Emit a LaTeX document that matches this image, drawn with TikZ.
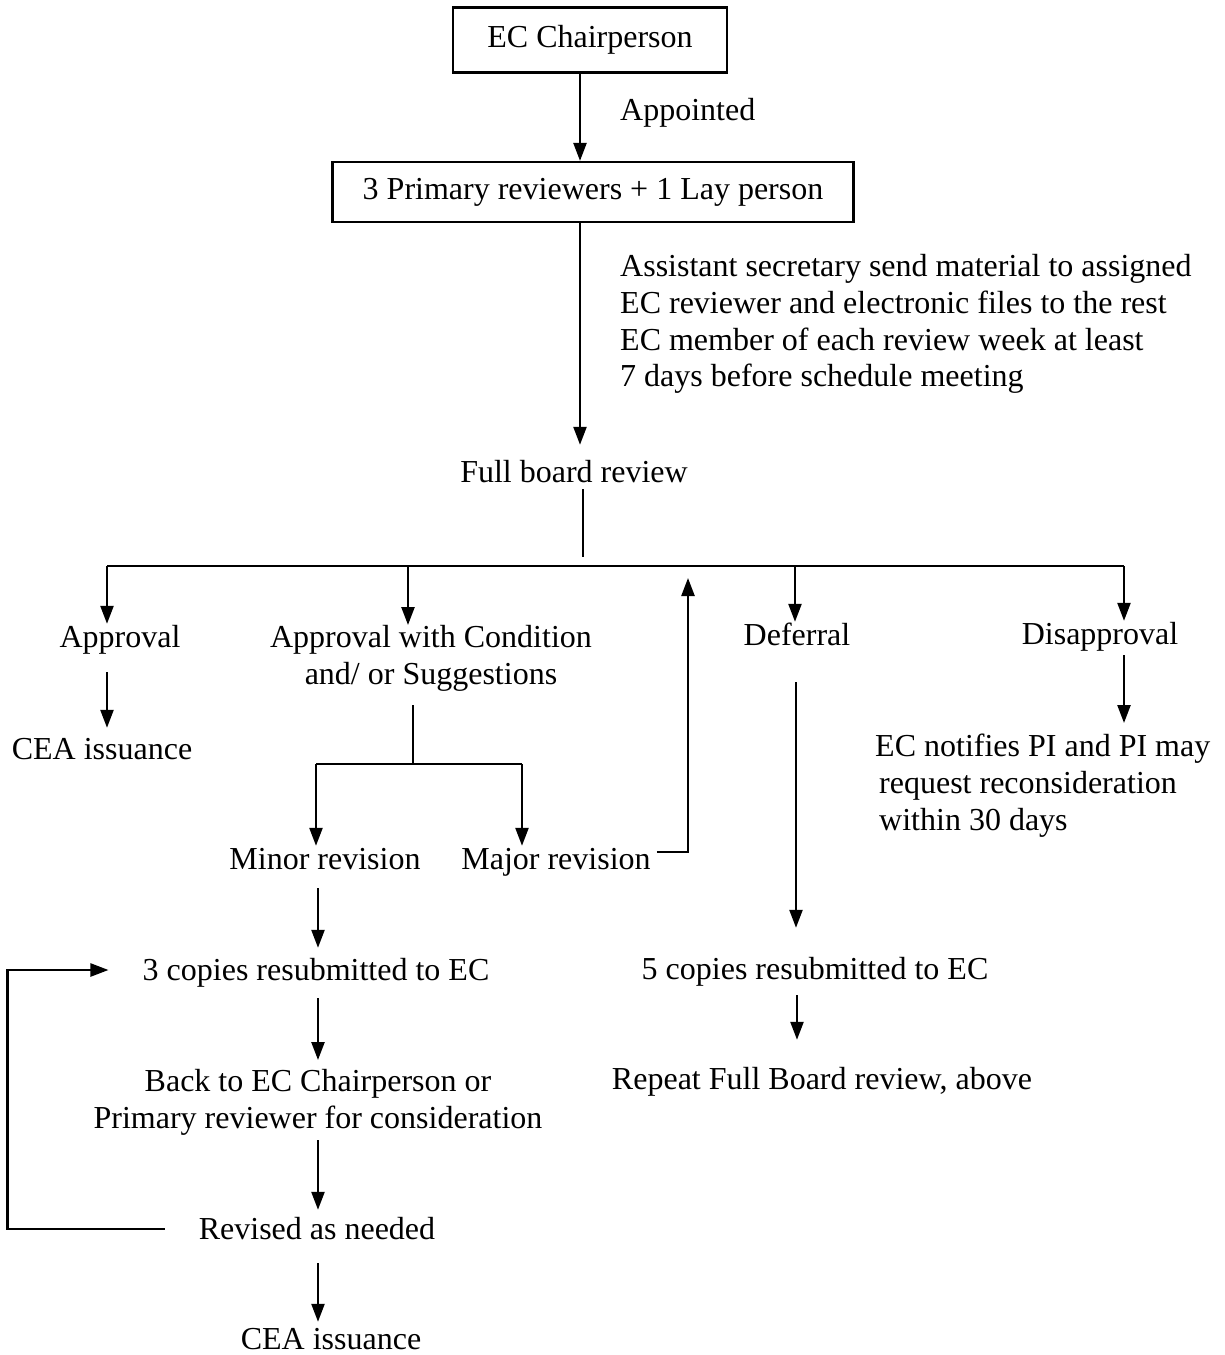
\documentclass[tikz,border=0pt]{standalone}
\usepackage{fontspec}
\setmainfont{Liberation Serif}
\usetikzlibrary{arrows.meta}
\begin{document}
\begin{tikzpicture}[x=1pt,y=-1pt,
  every node/.style={font=\fontsize{32}{36.8}\selectfont},
  txt/.style={inner sep=0pt, text height=23pt, text depth=7pt, anchor=base},
  multi/.style={inner sep=0pt},
  box/.style={draw, line width=2.2pt, inner sep=0pt},
  arr/.style={line width=2.4pt, -{Triangle[length=18pt,width=13pt]}},
  ln/.style={line width=2.4pt}]
\useasboundingbox (0,0) rectangle (1224,1355);

% boxes
\node[box, minimum width=274pt, minimum height=65pt] (b1) at (590,40) {EC Chairperson};
\node[box, minimum width=521pt, minimum height=60pt] (b2) at (593,192) {3 Primary reviewers + 1 Lay person};

% texts
\node[txt, anchor=base west] (appt) at (620,120) {Appointed};
\node[multi, anchor=north west, align=left] (note) at (620,254) {Assistant secretary send material to assigned\\EC reviewer and electronic files to the rest\\EC member of each review week at least\\7 days before schedule meeting};
\node[txt] (fbr) at (574,482) {Full board review};
\node[txt] (appr) at (120,647) {Approval};
\node[multi, anchor=north, align=center] (awc) at (431,625) {Approval with Condition\\and/ or Suggestions};
\node[txt] (defr) at (797,645) {Deferral};
\node[txt] (disa) at (1100,644) {Disapproval};
\node[txt] (cea1) at (102,759) {CEA issuance};
\node[multi, anchor=north west, align=left] (noti) at (875,734) {EC notifies PI and PI may\\\hspace*{4pt}request reconsideration\\\hspace*{4pt}within 30 days};
\node[txt] (minr) at (325,869) {Minor revision};
\node[txt] (majr) at (556,869) {Major revision};
\node[txt] (c3) at (316,980) {3 copies resubmitted to EC};
\node[multi, anchor=north, align=center] (back) at (318,1069) {Back to EC Chairperson or\\Primary reviewer for consideration};
\node[txt] (rev) at (317,1239) {Revised as needed};
\node[txt] (cea2) at (331,1349) {CEA issuance};
\node[txt] (c5) at (815,979) {5 copies resubmitted to EC};
\node[txt] (rep) at (822,1089) {Repeat Full Board review, above};

% coordinates
\coordinate (t1) at (107,566);
\coordinate (t2) at (408,566);
\coordinate (t3) at (795,566);
\coordinate (t4) at (1124,566);
\coordinate (up) at (688,578);
\coordinate (sp) at (413,764);
\coordinate (spL) at (316,764);
\coordinate (spR) at (522,764);
\coordinate (n4) at (1124,723);

% connectors
\draw[arr] ([xshift=-10pt]b1.south) -- ([xshift=-13pt]b2.north);
\draw[arr] ([xshift=-13pt]b2.south) -- ([xshift=6pt,yshift=14pt]fbr.north);
\draw[ln] ([xshift=9pt,yshift=0pt]fbr.south) -- ([xshift=9pt,yshift=-68pt]fbr.south);
\draw[ln] (t1) -- (t4);
\draw[arr] (t1) -- (t1 |- appr.north);
\draw[arr] (t2) -- (t2 |- awc.north);
\draw[arr] (t3) -- (t3 |- defr.north);
\draw[arr] (t4) -- (t4 |- disa.north);
\draw[arr] ([xshift=6pt,yshift=9pt]majr.east) -| (up);
\draw[arr] ([xshift=-13pt,yshift=-18pt]appr.south) -- ([xshift=5pt,yshift=8pt]cea1.north);
\draw[ln] ([xshift=-18pt,yshift=-14pt]awc.south) -- (sp);
\draw[ln] (spL) -- (spR);
\draw[arr] (spL) -- (spL |- minr.north);
\draw[arr] (spR) -- (spR |- majr.north);
\draw[arr] ([xshift=-7pt,yshift=-12pt]minr.south) -- ([xshift=2pt,yshift=9pt]c3.north);
\draw[arr] ([xshift=2pt,yshift=-11pt]c3.south) -- ([yshift=9pt]back.north);
\draw[arr] ([yshift=-5pt]back.south) -- ([xshift=1pt,yshift=6pt]rev.north);
\draw[arr] ([xshift=1pt,yshift=-17pt]rev.south) -- ([xshift=-13pt,yshift=4pt]cea2.north);
\draw[arr] ([xshift=-34pt,yshift=2pt]rev.west) -- ++(-157,0) |- ([xshift=-34pt,yshift=2pt]c3.west);
\draw[arr] ([xshift=-1pt,yshift=-30pt]defr.south) -- ([xshift=-19pt,yshift=28pt]c5.north);
\draw[arr] ([xshift=-18pt,yshift=-9pt]c5.south) -- ([xshift=-25pt,yshift=26pt]rep.north);
\draw[arr] ([xshift=24pt,yshift=-4pt]disa.south) -- (n4);
\end{tikzpicture}
\end{document}
